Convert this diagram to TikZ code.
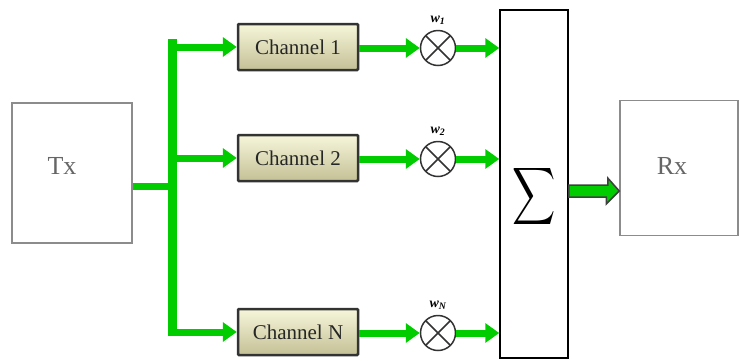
\documentclass[tikz,border=0pt]{standalone}
\usepackage{fontspec}
\setmainfont{Liberation Serif}
\usepackage{xcolor}
\usetikzlibrary{arrows.meta,positioning,calc}

\definecolor{wire}{RGB}{0,204,0}
\definecolor{chantop}{RGB}{246,246,218}
\definecolor{chanbot}{RGB}{196,192,150}

\begin{document}
\begin{tikzpicture}[
  x=1pt, y=-1pt,
  term/.style={draw=black!45, line width=1.5pt, minimum width=120pt},
  termtext/.style={font=\fontsize{26}{28}\selectfont, text=black!60, inner sep=0pt},
  chan/.style={draw=black!80, line width=2.5pt, rounded corners=1pt,
    top color=chantop, bottom color=chanbot, minimum width=120pt,
    minimum height=46pt, font=\fontsize{21}{24}\selectfont, text=black!85},
  mult/.style={circle, draw=black!80, line width=1.5pt, fill=white,
    minimum size=35pt, inner sep=0pt,
    path picture={\draw[line width=1.5pt, black!80]
      (path picture bounding box.south west) -- (path picture bounding box.north east)
      (path picture bounding box.north west) -- (path picture bounding box.south east);}},
  weight/.style={font=\fontsize{14}{15}\selectfont\bfseries\itshape, inner sep=1pt},
  arrow/.style={wire, line width=7pt, -{Triangle[length=14pt,width=19pt]}},
  bus/.style={wire, line width=9pt},
  fat/.style={fill=wire, draw=black!75, line width=1.5pt, line join=miter},
]
\useasboundingbox (0,0) rectangle (740,360);

% transmitter, receiver and the adder
\node[term, minimum height=140pt] (tx) at (72,173) {};
\node[term, minimum height=135pt, minimum width=118pt] (rx) at (679,168) {};
\node[termtext] (txlabel) at ($(tx)+(-10,-7)$) {Tx};
\node[termtext] (rxlabel) at ($(rx)+(-7,-2)$) {Rx};
\node[draw, line width=1.5pt, minimum width=68pt, minimum height=348pt] (sum) at (534,184) {};
\node (sigma) at ($(sum)+(0,12)$) {\scalebox{3}[4]{$\displaystyle\sum$}};

% channels
\node[chan] (ch1) at (298,47) {Channel 1};
\node[chan] (ch2) at (298,158) {Channel 2};
\node[chan] (chN) at (298,332) {Channel N};

% weights
\node[mult] (m1) at (438,48) {};
\node[mult] (m2) at (438,159) {};
\node[mult] (mN) at (438,333) {};
\node[weight, above=4pt of m1] (w1) {w\textsubscript{1}};
\node[weight, above=4pt of m2] (w2) {w\textsubscript{2}};
\node[weight, above=4pt of mN] (wN) {w\textsubscript{N}};

% splitting bus
\coordinate (bustop) at (172,39);
\coordinate (busbot) at (172,336);
\coordinate (fork) at (172,186);
\draw[bus] (bustop) -- (busbot);
\draw[wire, line width=7pt] (tx.east |- fork) -- (fork);

\foreach \c/\m in {ch1/m1, ch2/m2, chN/mN}{
  \draw[arrow] (bustop |- \c.west) -- (\c.west);
  \draw[arrow] (\c.east |- \m.west) -- (\m.west);
  \draw[arrow] (\m.east) -- (sum.west |- \m.east);
}

% output to the receiver
\coordinate (out) at ($(sum.east)+(0,7)$);
\draw[fat] ($(out)+(0,-6)$) -- ++(39,0) -- ++(0,-7) -- (rx.west |- out)
  -- ++(-13,13) -- ++(0,-7) -- ($(out)+(0,6)$) -- cycle;
\end{tikzpicture}
\end{document}
